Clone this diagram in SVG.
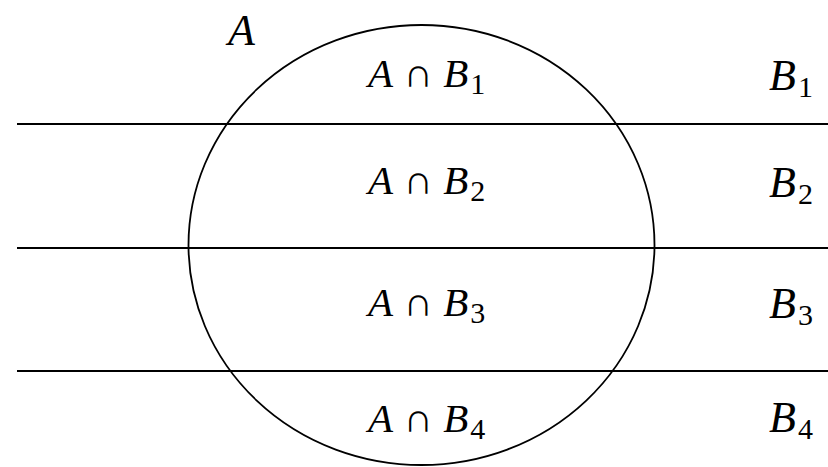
<svg xmlns="http://www.w3.org/2000/svg" width="828" height="467" viewBox="0 0 828 467">
<style>
.ln{stroke:#000;stroke-width:2;fill:none}
.c{stroke:#000;stroke-width:1.8;fill:none}
.m{font-size:41px}
.r{font-size:44px}
.i{font-style:italic}
.s{font-size:30px;font-style:normal}
</style>
<rect width="828" height="467" fill="#fff"/>
<g id="connectors">
<line class="ln" x1="17" y1="124" x2="828" y2="124"/>
<line class="ln" x1="17" y1="248" x2="828" y2="248"/>
<line class="ln" x1="17" y1="371" x2="828" y2="371"/>
</g>
<g font-family="Liberation Serif, Times New Roman, serif" fill="#000">
<g id="setA">
<ellipse class="c" cx="421.5" cy="245" rx="233" ry="220"/>
<text class="r i" x="228" y="45">A</text>
</g>
<g id="AB1"><text class="m" x="368" y="87"><tspan class="i">A</tspan> ∩ <tspan class="i">B</tspan><tspan class="s" dx="2" dy="7">1</tspan></text></g>
<g id="AB2"><text class="m" x="368" y="194"><tspan class="i">A</tspan> ∩ <tspan class="i">B</tspan><tspan class="s" dx="2" dy="7">2</tspan></text></g>
<g id="AB3"><text class="m" x="368" y="316"><tspan class="i">A</tspan> ∩ <tspan class="i">B</tspan><tspan class="s" dx="2" dy="7">3</tspan></text></g>
<g id="AB4"><text class="m" x="368" y="432"><tspan class="i">A</tspan> ∩ <tspan class="i">B</tspan><tspan class="s" dx="2" dy="7">4</tspan></text></g>
<g id="B1"><text class="r" x="769" y="90"><tspan class="i">B</tspan><tspan class="s" dx="2" dy="7">1</tspan></text></g>
<g id="B2"><text class="r" x="769" y="197"><tspan class="i">B</tspan><tspan class="s" dx="2" dy="7">2</tspan></text></g>
<g id="B3"><text class="r" x="769" y="318"><tspan class="i">B</tspan><tspan class="s" dx="2" dy="7">3</tspan></text></g>
<g id="B4"><text class="r" x="769" y="432"><tspan class="i">B</tspan><tspan class="s" dx="2" dy="7">4</tspan></text></g>
</g>
</svg>
